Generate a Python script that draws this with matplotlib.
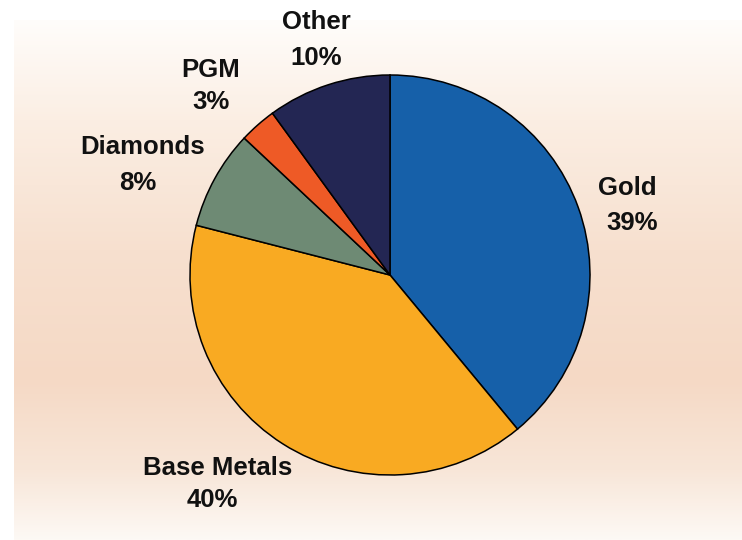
import numpy as np
import matplotlib.pyplot as plt
from matplotlib.colors import to_rgb

categories = ['Gold', 'Base Metals', 'Diamonds', 'PGM', 'Other']
shares = [39, 40, 8, 3, 10]
colors = ['#1660a9', '#f9aa22', '#6e8a74', '#ee5a26', '#232653']

# label anchor points in pixel coords (x, y from top): name line, value line
name_pos = [(627, 188), (218, 468), (143, 147), (211, 70), (316, 22)]
value_pos = [(632, 223), (212, 500), (138, 183), (211, 102), (316, 58)]

W, H = 742, 540
fig = plt.figure(figsize=(W / 100, H / 100), dpi=100)
ax = fig.add_axes([0, 0, 1, 1])
ax.set_xlim(0, W)
ax.set_ylim(0, H)
ax.axis('off')

# background panel: vertical gradient white -> peach -> light
stops_y = [20, 120, 250, 380, 470, 540]
stops_c = ['#fffdfb', '#fbeee3', '#f7e0cf', '#f5d9c5', '#f8e6d8', '#fdf9f5']
ys = np.arange(20, 541)
rgb = np.array([to_rgb(c) for c in stops_c])
grad = np.stack([np.interp(ys, stops_y, rgb[:, k]) for k in range(3)], axis=-1)
ax.imshow(grad[:, None, :], extent=[14, W, 0, H - 20], aspect='auto',
          interpolation='bilinear', zorder=0)

ax.pie(shares, colors=colors, startangle=90, counterclock=False,
       center=(390, H - 275), radius=200,
       wedgeprops=dict(edgecolor='black', linewidth=1.1), frame=True)
ax.set_xlim(0, W)
ax.set_ylim(0, H)
ax.axis('off')

font = dict(family='Liberation Sans', fontweight='bold', fontsize=18.5,
            color='#111111', ha='center', va='center')
for name, val, (nx, ny), (vx, vy) in zip(categories, shares, name_pos, value_pos):
    ax.text(nx, H - ny, name, **font)
    ax.text(vx, H - vy, '%d%%' % val, **font)

fig.savefig('out.png', dpi=100)
